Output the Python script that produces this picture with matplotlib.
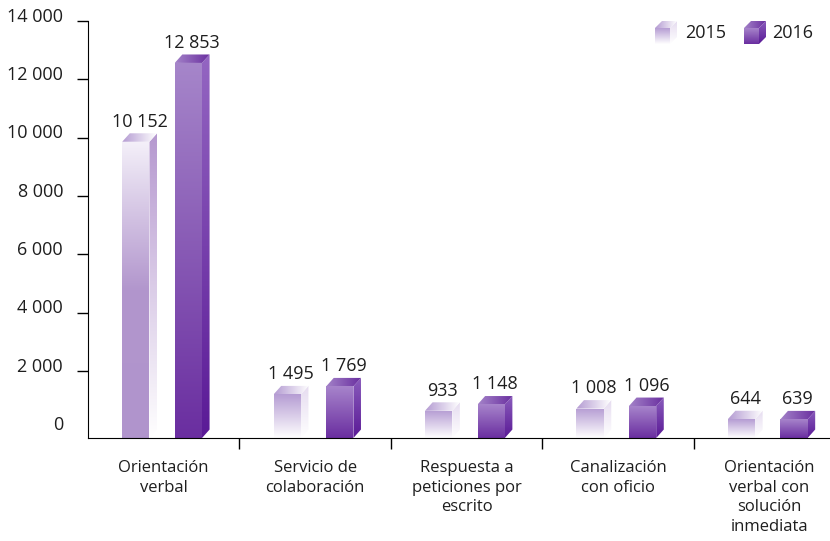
import matplotlib
matplotlib.use('Agg')
import matplotlib.pyplot as plt
from matplotlib.patches import Polygon
from matplotlib.colors import LinearSegmentedColormap
from matplotlib.transforms import ScaledTranslation
import numpy as np

categorias = ['Orientación\nverbal', 'Servicio de\ncolaboración',
              'Respuesta a\npeticiones por\nescrito', 'Canalización\ncon oficio',
              'Orientación\nverbal con\nsolución\ninmediata']
v2015 = [10152, 1495, 933, 1008, 644]
v2016 = [12853, 1769, 1148, 1096, 639]
series = ['2015', '2016']
yticks = [0, 2000, 4000, 6000, 8000, 10000, 12000, 14000]

plt.rcParams['font.family'] = ['Open Sans', 'DejaVu Sans']
texto = '#1e1e1e'
fs = 12
fs_num = 13

# colores de las caras (frente, lado, tapa)
estilo = {
    '2015': {'front': ['#b59cd3', '#ffffff'], 'front_alto': ['#f4f0f9', '#b296cd', '#b094cc'],
             'side': ['#e6dcf0', '#ffffff'], 'side_alto': ['#b598cf', '#ffffff'],
             'top': ['#b49bd2', '#ffffff']},
    '2016': {'front': ['#a784cb', '#6a2ea0'], 'front_alto': ['#a686ca', '#6a2ea0'],
             'side': ['#8a5cbc', '#5a1a96'], 'side_alto': ['#9466c2', '#5a1a96'],
             'top': ['#a382c8', '#6a2fa0']},
}


def cara(ax, verts, colores, vertical=True):
    poly = Polygon(verts, closed=True, facecolor='none', edgecolor='none')
    ax.add_patch(poly)
    xs = [p[0] for p in verts]
    ys = [p[1] for p in verts]
    cmap = LinearSegmentedColormap.from_list('g', colores)
    if vertical:
        grad = np.linspace(0, 1, 256).reshape(-1, 1)
    else:
        grad = np.linspace(0, 1, 256).reshape(1, -1)
    im = ax.imshow(grad, cmap=cmap, extent=[min(xs), max(xs), min(ys), max(ys)],
                   origin='upper', aspect='auto', interpolation='bilinear', zorder=2)
    im.set_clip_path(poly)


def cubo(ax, x, y0, y1, w, dx, dy, st, alto=False):
    f = st['front_alto'] if alto else st['front']
    s = st['side_alto'] if alto else st['side']
    cara(ax, [(x, y0), (x + w, y0), (x + w, y1), (x, y1)], f)
    cara(ax, [(x + w, y0), (x + w + dx, y0 + dy), (x + w + dx, y1 + dy), (x + w, y1)], s)
    cara(ax, [(x, y1), (x + w, y1), (x + w + dx, y1 + dy), (x + dx, y1 + dy)], st['top'], vertical=False)


fig = plt.figure(figsize=(8.3, 5.41), dpi=100)
ax = fig.add_axes([88 / 830, (541 - 438) / 541, (845 - 88) / 830, (438 - 21) / 541])

ymin = -290
dy = 290
w = 0.18
dx = 0.05
offs = [-0.274, 0.073]

for i in range(len(categorias)):
    for k, vals in enumerate([v2015, v2016]):
        v = vals[i]
        x = i + 0.5 + offs[k]
        alto = v > 0.5 * max(v2016)
        cubo(ax, x, ymin, v - dy, w, dx, dy, estilo[series[k]], alto)
        ax.annotate(f'{v:,}'.replace(',', ' '), (x + (w + dx) / 2, v), xytext=(0, 2),
                    textcoords='offset points', ha='center', va='bottom',
                    fontsize=fs_num, color=texto)

ax.set_xlim(0, 5)
ax.set_ylim(ymin, 14000)
ax.set_aspect('auto')

for s in ['top', 'right']:
    ax.spines[s].set_visible(False)
ax.spines['left'].set_bounds(ymin, 14000)

ax.set_yticks(yticks)
ax.set_yticklabels([f'{t:,}'.replace(',', ' ') for t in yticks])
ax.tick_params(axis='y', length=8, width=1, pad=10, labelsize=fs_num, labelcolor=texto)
ax.yaxis.get_major_ticks()[0].tick1line.set_visible(False)
for lab in ax.get_yticklabels():
    lab.set_transform(lab.get_transform() + ScaledTranslation(0, 0.065, fig.dpi_scale_trans))

ax.set_xticks([1, 2, 3, 4])
ax.set_xticklabels([])
ax.tick_params(axis='x', which='major', length=8, width=1)
ax.set_xticks(np.arange(len(categorias)) + 0.5, minor=True)
ax.set_xticklabels(categorias, minor=True, fontsize=fs, color=texto, linespacing=1.3)
ax.tick_params(axis='x', which='minor', length=0, pad=16)

# leyenda con cubos
ov = fig.add_axes([0, 0, 1, 1])
ov.set_xlim(0, 830)
ov.set_ylim(0, 541)
ov.axis('off')
for k, (xc, xt) in enumerate([(655, 685), (744, 772)]):
    cubo(ov, xc, 541 - 44, 541 - 28, 15, 7, 7, estilo[series[k]])
    ov.text(xt, 541 - 33, series[k], ha='left', va='center', fontsize=fs_num, color=texto)
ov.set_xlim(0, 830)
ov.set_ylim(0, 541)
ov.set_aspect('auto')

fig.savefig('out.png', dpi=100)
